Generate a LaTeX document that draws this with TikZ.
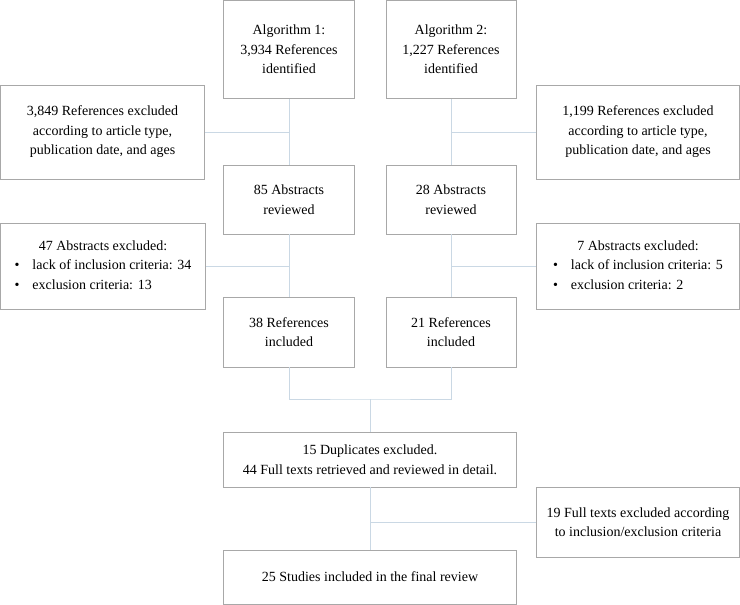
\documentclass[tikz,border=0pt]{standalone}
\usepackage{fontspec}
\setmainfont{Liberation Serif}
\usetikzlibrary{positioning}
\definecolor{boxgray}{HTML}{A8A8A8}
\definecolor{linkblue}{HTML}{CAD8E4}

\begin{document}
\begin{tikzpicture}[x=1pt, y=-1pt, every node/.style={font=\fontsize{14}{19.5}\selectfont},
    box/.style={draw=boxgray, line width=0.8pt, fill=white, align=center, inner sep=0pt},
    link/.style={draw=linkblue, line width=1pt}]
      \useasboundingbox (0,0) rectangle (740,605);

      % two search branches
      \node[box, minimum width=131, minimum height=98] (a1) at (289,49.5) {Algorithm 1:\\3,934 References\\identified};
      \node[box, minimum width=130, minimum height=98] (a2) at (451,49.5) {Algorithm 2:\\1,227 References\\identified};

      \node[box, minimum width=204, minimum height=94] (ex1) at (102.5,132) {3,849 References excluded\\according to article type,\\publication date, and ages};
      \node[box, minimum width=203, minimum height=94] (ex2) at (638,132) {1,199 References excluded\\according to article type,\\publication date, and ages};

      \node[box, minimum width=131, minimum height=69] (ab1) at (289,199.5) {85 Abstracts\\reviewed};
      \node[box, minimum width=130, minimum height=69] (ab2) at (451,199.5) {28 Abstracts\\reviewed};

      \node[box, minimum width=205, minimum height=86] (abx1) at (103,266) {\begin{tabular}{@{}l@{\hspace{13pt}}l@{}}\multicolumn{2}{c}{47 Abstracts excluded:}\\ \textbullet & lack of inclusion criteria: 34\\ \textbullet & exclusion criteria: 13\end{tabular}};
      \node[box, minimum width=203, minimum height=86] (abx2) at (638,266) {\begin{tabular}{@{}l@{\hspace{13pt}}l@{}}\multicolumn{2}{c}{7 Abstracts excluded:}\\ \textbullet & lack of inclusion criteria: 5\\ \textbullet & exclusion criteria: 2\end{tabular}};

      \node[box, minimum width=131, minimum height=70] (rf1) at (289,332) {38 References\\included};
      \node[box, minimum width=130, minimum height=70] (rf2) at (451,332) {21 References\\included};

      % merged part
      \node[box, minimum width=293, minimum height=55] (dup) at (370,459.5) {15 Duplicates excluded.\\44 Full texts retrieved and reviewed in detail.};
      \node[box, minimum width=203, minimum height=70] (ftx) at (638,522) {19 Full texts excluded according\\to inclusion/exclusion criteria};
      \node[box, minimum width=293, minimum height=54] (fin) at (370,577) {25 Studies included in the final review};

      \coordinate (mg) at (370,399);

      \draw[link] (a1) -- (ab1);
      \draw[link] (a2) -- (ab2);
      \draw[link] (ex1.east) -- (ex1.east -| a1.south);
      \draw[link] (ex2.west) -- (ex2.west -| a2.south);
      \draw[link] (ab1) -- (rf1);
      \draw[link] (ab2) -- (rf2);
      \draw[link] (abx1.east) -- (abx1.east -| ab1.south);
      \draw[link] (abx2.west) -- (abx2.west -| ab2.south);
      \draw[link] (rf1.south) |- (mg) -| (rf2.south);
      \draw[link] (mg) -- (dup.north);
      \draw[link] (dup) -- (fin);
      \draw[link] (ftx.west) -- (ftx.west -| dup.south);
    \end{tikzpicture}
\end{document}
